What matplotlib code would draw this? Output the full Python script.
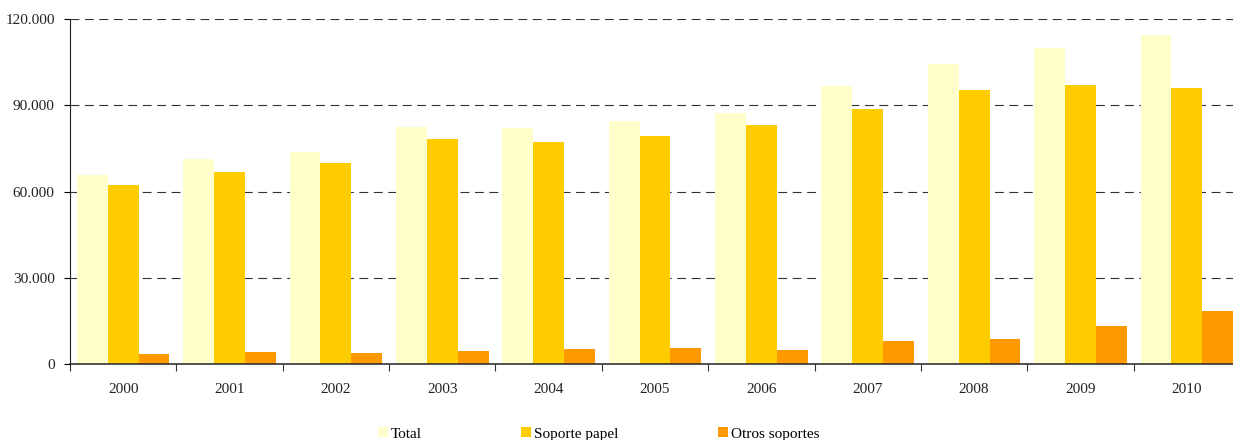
import matplotlib
matplotlib.use("Agg")
import matplotlib.pyplot as plt
import matplotlib.ticker as mticker
import numpy as np

years = ["2000", "2001", "2002", "2003", "2004", "2005", "2006", "2007", "2008", "2009", "2010"]
total = [65700, 71200, 73700, 82400, 82100, 84500, 87300, 96700, 104300, 110100, 114400]
soporte_papel = [62300, 66800, 69900, 78300, 77200, 79300, 83100, 88700, 95300, 97000, 96000]
otros_soportes = [3500, 4200, 3800, 4500, 5200, 5600, 4900, 8000, 8700, 13200, 18400]

series = [("Total", total, "#FFFFCC"),
          ("Soporte papel", soporte_papel, "#FFCC00"),
          ("Otros soportes", otros_soportes, "#FF9900")]

plt.rcParams["font.family"] = ["Liberation Serif", "DejaVu Serif"]

W, H = 1233, 440
fig = plt.figure(figsize=(W / 100, H / 100), dpi=100)
ax = fig.add_axes([70 / W, 76 / H, 1170 / W, (364 - 19.3) / H])

x = np.arange(len(years))
bw = 0.29
for i, (name, vals, col) in enumerate(series):
    ax.bar(x + (i - 1) * bw, vals, width=bw, color=col, label=name, zorder=2)

ax.set_xlim(-0.5, len(years) - 0.5)
ax.set_ylim(0, 120000)
ax.set_yticks([0, 30000, 60000, 90000, 120000])
ax.yaxis.set_major_formatter(mticker.FuncFormatter(lambda v, p: f"{int(v):,}".replace(",", ".")))

ax.set_xticks(np.arange(len(years) + 1) - 0.5)
ax.set_xticklabels([])
ax.set_xticks(x, minor=True)
ax.set_xticklabels(years, minor=True)
ax.tick_params(axis="x", which="major", length=5, direction="out", color="#333333")
ax.tick_params(axis="x", which="minor", length=0, pad=14, labelsize=11, labelcolor="#222222")
ax.tick_params(axis="y", length=4, direction="out", pad=7, labelsize=11, labelcolor="#222222")

ax.yaxis.grid(True, linestyle=(0, (8, 5)), color="#333333", linewidth=0.8, zorder=0)
for s in ["top", "right"]:
    ax.spines[s].set_visible(False)
ax.spines["left"].set_color("#222222")
ax.spines["bottom"].set_color("#333333")
ax.spines["bottom"].set_linewidth(1.2)
ax.spines["bottom"].set_zorder(3)

fig.legend(loc="center left", bbox_to_anchor=(378 / W, 6 / H), ncol=3, frameon=False,
           borderpad=0, handlelength=0.65, handleheight=0.65, handletextpad=0.2,
           columnspacing=6.5, fontsize=11, borderaxespad=0)

fig.savefig("out.png", dpi=100)
